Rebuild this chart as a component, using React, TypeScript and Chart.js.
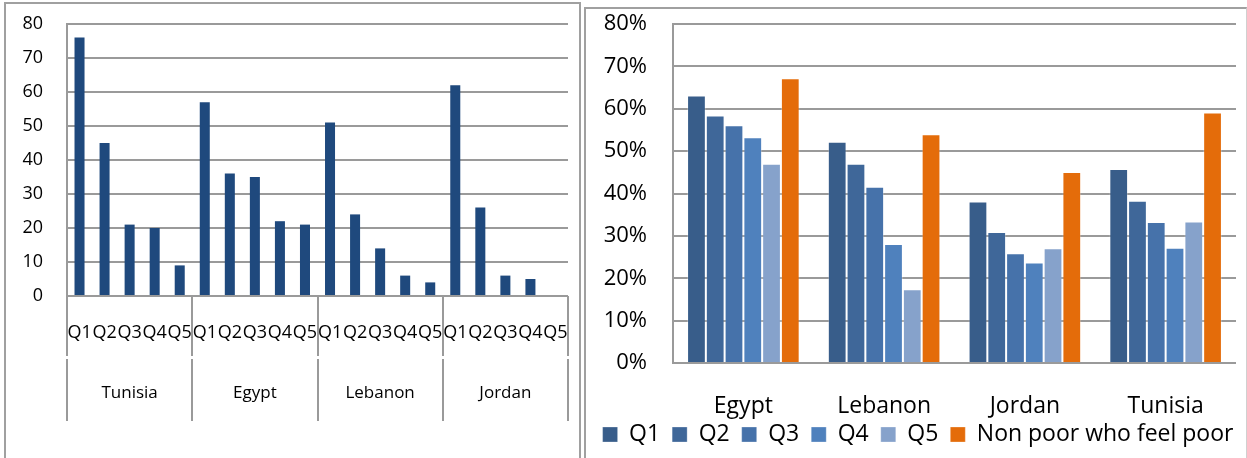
import React, { useEffect, useRef } from "react";
import { Chart, registerables } from "chart.js";

Chart.register(...registerables);

// ---------- Left chart data ----------
const leftCountries = ["Tunisia", "Egypt", "Lebanon", "Jordan"];
const quintiles = ["Q1", "Q2", "Q3", "Q4", "Q5"];
const tunisiaLeft = [76, 45, 21, 20, 9];
const egyptLeft = [57, 36, 35, 22, 21];
const lebanonLeft = [51, 24, 14, 6, 4];
const jordanLeft = [62, 26, 6, 5, null];
const leftYMax = 80;
const leftYStep = 10;

// ---------- Right chart data ----------
const rightCountries = ["Egypt", "Lebanon", "Jordan", "Tunisia"];
const rightSeriesNames = ["Q1", "Q2", "Q3", "Q4", "Q5", "Non poor who feel poor"];
const q1Right = [63.1, 52.2, 38.1, 45.8];
const q2Right = [58.4, 47.0, 30.9, 38.3];
const q3Right = [56.1, 41.6, 25.9, 33.3];
const q4Right = [53.3, 28.1, 23.7, 27.2];
const q5Right = [47.0, 17.4, 27.1, 33.4];
const nonPoorRight = [67.2, 54.0, 45.1, 59.1];
const rightYMax = 80;
const rightYStep = 10;

const FONT = "'Open Sans', 'Liberation Sans', sans-serif";
const GRID = "#9a9a9a";

function LeftChart() {
  const ref = useRef<HTMLCanvasElement | null>(null);
  useEffect(() => {
    if (!ref.current) return;
    const labels: string[] = [];
    leftCountries.forEach(() => quintiles.forEach((q) => labels.push(q)));
    const values = [...tunisiaLeft, ...egyptLeft, ...lebanonLeft, ...jordanLeft];

    const groupPlugin = {
      id: "groupLabels",
      afterDraw(chart: any) {
        const x = chart.scales.x;
        const ctx = chart.ctx as CanvasRenderingContext2D;
        const n = quintiles.length;
        const w = (x.right - x.left) / labels.length;
        ctx.save();
        ctx.strokeStyle = GRID;
        ctx.lineWidth = 2;
        for (let g = 0; g <= leftCountries.length; g++) {
          const px = Math.round(x.left + g * n * w);
          ctx.beginPath();
          ctx.moveTo(px, x.top);
          ctx.lineTo(px, 356);
          ctx.moveTo(px, 359);
          ctx.lineTo(px, 421);
          ctx.stroke();
        }
        ctx.fillStyle = "#000";
        ctx.font = `17px ${FONT}`;
        ctx.textAlign = "center";
        ctx.textBaseline = "middle";
        leftCountries.forEach((c, g) => {
          const cx = x.left + (g + 0.5) * n * w;
          ctx.fillText(c, cx, 393);
        });
        ctx.restore();
      },
    };

    const chart = new Chart(ref.current, {
      type: "bar",
      data: {
        labels,
        datasets: [
          {
            data: values,
            backgroundColor: "#1F497D",
            borderWidth: 0,
            barPercentage: 0.4,
            categoryPercentage: 1,
          },
        ],
      },
      options: {
        animation: false,
        responsive: false,
        layout: { padding: { left: 0, right: 12, top: 24, bottom: 32 } },
        plugins: { legend: { display: false }, tooltip: { enabled: false } },
        scales: {
          x: {
            grid: {
              display: true,
              drawOnChartArea: false,
              drawTicks: true,
              tickLength: 26,
              color: "transparent",
              tickColor: "transparent",
            },
            border: { display: false },
            ticks: {
              autoSkip: false,
              maxRotation: 0,
              minRotation: 0,
              padding: 0,
              color: "#000",
              font: { family: FONT, size: 18 },
            },
            afterFit: (s: any) => {
              s.height = 130;
            },
          },
          y: {
            min: 0,
            max: leftYMax,
            ticks: {
              stepSize: leftYStep,
              padding: 0,
              color: "#000",
              font: { family: FONT, size: 18 },
            },
            grid: { color: GRID, lineWidth: 2, drawTicks: true, tickLength: 24, tickColor: "transparent" },
            border: { display: true, color: GRID, width: 2 },
            afterFit: (s: any) => {
              s.width = 67;
            },
          },
        },
      },
      plugins: [groupPlugin],
    });
    return () => chart.destroy();
  }, []);
  return (
    <canvas
      ref={ref}
      width={580}
      height={458}
      style={{ position: "absolute", left: 0, top: 0, display: "block" }}
    />
  );
}

function RightChart() {
  const ref = useRef<HTMLCanvasElement | null>(null);
  useEffect(() => {
    if (!ref.current) return;
    const series = [q1Right, q2Right, q3Right, q4Right, q5Right, nonPoorRight];
    const colors = ["#385D8A", "#3F6799", "#4672AA", "#4F81BD", "#86A2CB", "#E46C0A"];

    const catLabelPlugin = {
      id: "catLabels",
      afterDraw(chart: any) {
        const x = chart.scales.x;
        const ctx = chart.ctx as CanvasRenderingContext2D;
        ctx.save();
        ctx.fillStyle = "#000";
        ctx.font = `23px ${FONT}`;
        ctx.textAlign = "center";
        ctx.textBaseline = "middle";
        (chart.data.labels as string[]).forEach((lab, i) => {
          ctx.fillText(lab, x.getPixelForValue(i), 397);
        });
        ctx.restore();
      },
    };

    const chart = new Chart(ref.current, {
      type: "bar",
      data: {
        labels: rightCountries,
        datasets: series.map((d, i) => ({
          label: rightSeriesNames[i],
          data: d,
          backgroundColor: colors[i],
          borderColor: "rgba(255,255,255,0.28)",
          borderWidth: 1,
          categoryPercentage: 0.8,
          barPercentage: 1,
        })),
      },
      options: {
        animation: false,
        responsive: false,
        layout: { padding: { left: 2, right: 0, top: 15, bottom: 2 } },
        plugins: {
          tooltip: { enabled: false },
          legend: {
            display: true,
            position: "bottom",
            labels: {
              boxWidth: 15,
              boxHeight: 15,
              padding: 12,
              color: "#000",
              font: { family: FONT, size: 23 },
            },
          },
        },
        scales: {
          x: {
            grid: { display: false },
            border: { display: false },
            ticks: { display: false, padding: 0 },
            afterFit: (s: any) => {
              s.height = 48;
            },
          },
          y: {
            min: 0,
            max: rightYMax,
            ticks: {
              stepSize: rightYStep,
              padding: 0,
              color: "#000",
              font: { family: FONT, size: 22 },
              callback: (v: any) => `${v}%`,
            },
            grid: { color: GRID, lineWidth: 2, drawTicks: true, tickLength: 26, tickColor: "transparent" },
            border: { display: true, color: GRID, width: 2 },
            afterFit: (s: any) => {
              s.width = 84;
            },
          },
          ySpacer: {
            type: "linear",
            position: "right",
            display: true,
            grid: { display: false, drawOnChartArea: false },
            border: { display: false },
            ticks: { display: false, padding: 0 },
            afterFit: (s: any) => {
              s.width = 11;
            },
          },
        },
      },
      plugins: [catLabelPlugin],
    });
    return () => chart.destroy();
  }, []);
  return (
    <canvas
      ref={ref}
      width={660}
      height={449}
      style={{ position: "absolute", left: 587, top: 9, display: "block" }}
    />
  );
}

export default function App() {
  return (
    <div style={{ position: "fixed", left: 0, top: 0, width: 1247, height: 458, background: "#fff", overflow: "hidden" }}>
      <div
        style={{
          position: "absolute",
          left: 4,
          top: 2,
          width: 573,
          height: 470,
          borderLeft: "2px solid #a0a0a0",
          borderTop: "2px solid #a0a0a0",
          borderRight: "2px solid #a0a0a0",
        }}
      />
      <div
        style={{
          position: "absolute",
          left: 584,
          top: 7,
          width: 660,
          height: 470,
          borderLeft: "2px solid #a0a0a0",
          borderTop: "2px solid #a0a0a0",
          borderRight: "1px solid #d0d0d0",
        }}
      />
      <LeftChart />
      <RightChart />
    </div>
  );
}
